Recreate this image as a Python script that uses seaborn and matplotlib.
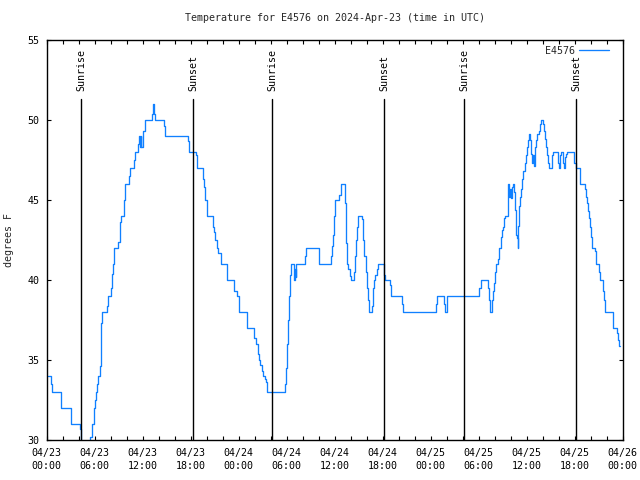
import matplotlib
matplotlib.use("Agg")
import matplotlib.pyplot as plt
import seaborn as sns
import pandas as pd

# ---- data (hours since 2024-04-23 00:00 UTC, temperature in F) ----
hours = [0.16, 0.5, 0.62, 1.75, 3.0, 4.16, 4.33, 5.45, 5.7, 5.91, 6.04, 6.2, 6.33, 6.45,
         6.62, 6.75, 6.83, 6.95, 7.5, 7.7, 8.0, 8.16, 8.29, 8.45, 8.9, 9.16, 9.33, 9.7,
         9.83, 10.29, 10.41, 10.91, 11.04, 11.45, 11.54, 11.66, 11.75, 11.83, 12.08, 12.29,
         13.16, 13.24, 13.41, 13.54, 14.66, 14.79, 17.62, 17.83, 18.62, 18.74, 19.49, 19.66,
         19.83, 20.0, 20.74, 20.91, 21.08, 21.24, 21.37, 21.74, 22.49, 23.45, 23.74, 24.04,
         24.99, 25.95, 26.16, 26.37, 26.54, 26.7, 26.87, 27.08, 27.24, 27.41, 27.58, 29.74,
         29.91, 30.0, 30.08, 30.21, 30.33, 30.46, 30.54, 30.87, 31.0, 31.12, 31.2, 32.29,
         32.37, 34.08, 35.54, 35.62, 35.79, 35.91, 36.08, 36.54, 36.79, 37.29, 37.41, 37.54,
         37.71, 37.91, 38.0, 38.37, 38.5, 38.62, 38.75, 38.87, 39.41, 39.5, 39.66, 39.87,
         40.0, 40.16, 40.29, 40.62, 40.75, 40.87, 41.08, 41.25, 41.37, 42.16, 42.29, 42.92,
         43.04, 44.46, 44.58, 48.62, 48.79, 49.66, 49.75, 50.0, 50.08, 54.04, 54.29, 55.12,
         55.29, 55.46, 55.62, 55.83, 55.95, 56.08, 56.2, 56.45, 56.58, 56.74, 56.87, 57.0,
         57.16, 57.29, 57.62, 57.74, 57.87, 57.99, 58.12, 58.29, 58.37, 58.58, 58.66, 58.79,
         58.87, 58.95, 59.08, 59.2, 59.33, 59.45, 59.58, 59.74, 59.87, 59.99, 60.12, 60.24,
         60.37, 60.49, 60.62, 60.74, 60.87, 60.99, 61.12, 61.24, 61.49, 61.66, 61.79, 62.08,
         62.2, 62.33, 62.45, 62.58, 62.7, 62.83, 63.2, 63.33, 63.95, 64.08, 64.16, 64.29,
         64.58, 64.7, 64.83, 64.95, 65.08, 65.95, 66.12, 66.66, 67.24, 67.37, 67.49, 67.62,
         67.74, 67.87, 67.99, 68.12, 68.49, 68.62, 68.99, 69.12, 69.49, 69.62, 69.74, 70.74,
         70.83, 71.24, 71.37, 71.49, 71.66]
temps = [34, 33.5, 33, 32, 31, 30.7, 28.5, 30.2, 31, 32, 32.5, 33, 33.5, 34,
         34.6, 35.7, 37.3, 38, 38.4, 39, 39.5, 40.4, 41, 42, 42.4, 43.6, 44, 45,
         46, 46.5, 47, 47.5, 48, 48.5, 49, 48.3, 49, 48.3, 49.3, 50,
         50.4, 51, 50.4, 50, 49.6, 49, 48.7, 48, 47.8, 47, 46.3, 45.8,
         45, 44, 43.3, 43, 42.5, 42, 41.7, 41, 40, 39.3, 39, 38,
         37, 36.4, 36, 35.4, 35, 34.7, 34.3, 34, 33.8, 33.6, 33, 33.5,
         34.5, 35, 36, 37.5, 39, 40.3, 41, 40, 40.7, 40.2, 41, 41.5,
         42, 41, 41.5, 42.1, 42.8, 44, 45, 45.3, 46, 44.8, 42.3, 41,
         40.7, 40.25, 40, 40.5, 41.5, 42.5, 43.3, 44, 43.8, 42.5, 41.5, 40.5,
         39.5, 38.75, 38, 38.4, 39.5, 40, 40.3, 40.7, 41, 40.3, 40, 39.7,
         39, 38.5, 38, 38.5, 39, 38.5, 38, 38.6, 39, 39.5, 40, 39.5,
         38.75, 38, 38.75, 39.3, 39.8, 40.5, 41, 41.3, 42, 42.7, 43.1, 43.3,
         43.85, 44, 46, 45.2, 45.7, 45.1, 45.8, 46, 45.5, 44.4, 42.8, 42.6,
         42, 43.4, 44.6, 45.2, 45.7, 46.3, 46.8, 47.3, 47.8, 48.3, 48.75, 49.1,
         48.75, 47.9, 47.3, 47.8, 47.1, 48.3, 48.75, 49.1, 49.3, 49.75, 50, 49.75,
         49.3, 48.8, 48.3, 47.8, 47.3, 47, 47.8, 48, 47.3, 47, 47.8, 48,
         47.3, 47, 47.7, 47.9, 48, 47.3, 47, 46, 45.7, 45.2, 44.8, 44.3,
         43.85, 43.3, 42.7, 42, 41.8, 41, 40.5, 40, 39.3, 38.75, 38, 37.5,
         37, 36.7, 36.25, 35.9, 35.9]

event_names = ["Sunrise", "Sunset", "Sunrise", "Sunset", "Sunrise", "Sunset"]
event_hours = [4.3, 18.3, 28.2, 42.2, 52.2, 66.2]

xtick_hours = [0, 6, 12, 18, 24, 30, 36, 42, 48, 54, 60, 66, 72]
xtick_labels = ["04/23\n00:00", "04/23\n06:00", "04/23\n12:00", "04/23\n18:00",
                "04/24\n00:00", "04/24\n06:00", "04/24\n12:00", "04/24\n18:00",
                "04/25\n00:00", "04/25\n06:00", "04/25\n12:00", "04/25\n18:00",
                "04/26\n00:00"]
ytick_values = [30, 35, 40, 45, 50, 55]

title = "Temperature for E4576 on 2024-Apr-23 (time in UTC)"
series_name = "E4576"
ylabel = "degrees F"

# ---- style ----
sns.set_theme(style="ticks")
plt.rcParams["font.family"] = ["DejaVu Sans Mono", "DejaVu Sans"]
plt.rcParams["font.size"] = 7.2

fig = plt.figure(figsize=(6.4, 4.8), dpi=100)
ax = fig.add_axes([46.7 / 640, 1 - 440 / 480, (622.7 - 46.7) / 640, 400 / 480])

df = pd.DataFrame({"hour": hours, "temp": temps})
sns.lineplot(data=df, x="hour", y="temp", ax=ax, estimator=None, sort=False,
             drawstyle="steps-post", color="#1080ff", linewidth=0.95, label=series_name)

ymax_event = 51.3
for name, h in zip(event_names, event_hours):
    ax.plot([h, h], [30, ymax_event], color="black", linewidth=1.0)
    ax.text(h, 51.8, name, rotation=90, ha="center", va="bottom",
            fontsize=7.2, color="black")

ax.set_xlim(0, 72)
ax.set_ylim(30, 55)
ax.set_xticks(xtick_hours)
ax.set_xticklabels(xtick_labels, linespacing=1.35)
ax.set_xticks(range(0, 73, 2), minor=True)
ax.set_yticks(ytick_values)
ax.set_yticklabels([str(v) for v in ytick_values])

ax.tick_params(axis="both", which="both", direction="in", top=True, right=True,
               length=3, width=0.8, color="black", labelsize=7.2, labelcolor="black")
ax.tick_params(axis="x", which="both", pad=6)
ax.tick_params(axis="y", pad=5)
for s in ax.spines.values():
    s.set_color("black")
    s.set_linewidth(1.0)

ax.set_xlabel("")
ax.set_ylabel(ylabel, fontsize=7.2, labelpad=10)
ax.set_title(title, fontsize=7.2, pad=14)

leg = ax.legend(loc="upper right", bbox_to_anchor=(1 - 6.5 / 576, 1 + 1.5 / 400),
                frameon=False, markerfirst=False,
                handlelength=3.0, handletextpad=0.4, borderaxespad=0.3,
                fontsize=7.2)

fig.savefig("out.png", dpi=100)
